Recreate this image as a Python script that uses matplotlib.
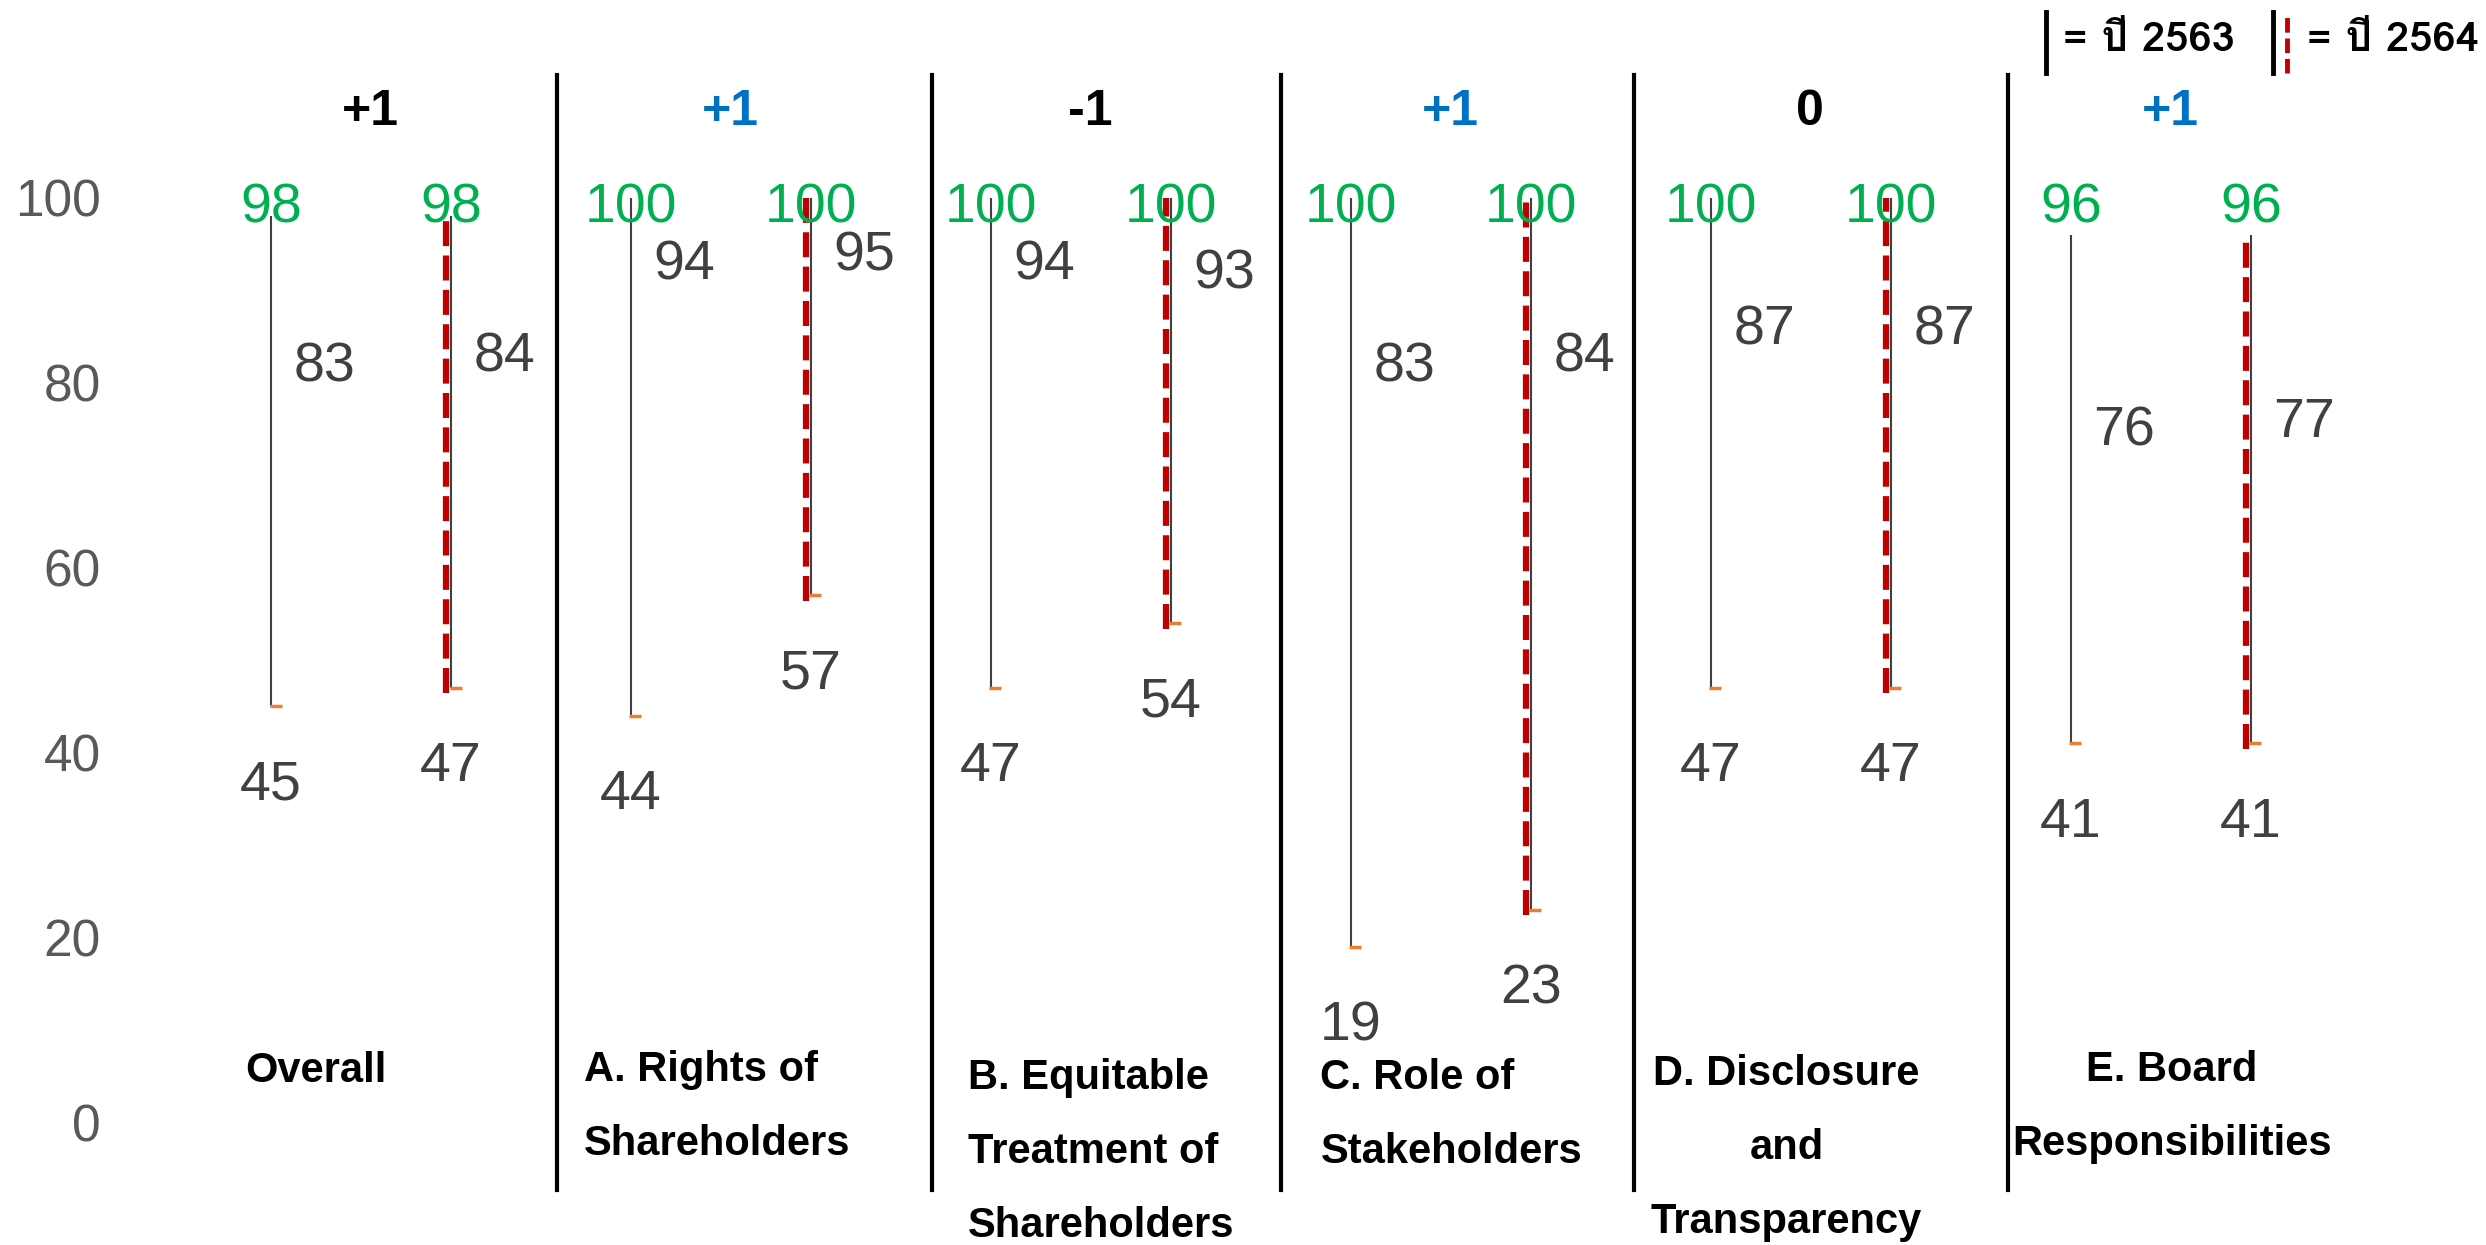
import matplotlib
matplotlib.use("Agg")
import matplotlib.pyplot as plt
from matplotlib import font_manager
from matplotlib.ft2font import FT2Font

# ข้อมูลคะแนน ปี 2563 / 2564
categories = ["Overall", "A. Rights of\nShareholders", "B. Equitable\nTreatment of\nShareholders",
              "C. Role of\nStakeholders", "D. Disclosure\nand\nTransparency", "E. Board\nResponsibilities"]
max_2563 = [98, 100, 100, 100, 100, 96]
mean_2563 = [83, 94, 94, 83, 87, 76]
min_2563 = [45, 44, 47, 19, 47, 41]
max_2564 = [98, 100, 100, 100, 100, 96]
mean_2564 = [84, 95, 93, 84, 87, 77]
min_2564 = [47, 57, 54, 23, 47, 41]
change = ["+1", "+1", "-1", "+1", "0", "+1"]
legend_labels = ["= ปี 2563", "= ปี 2564"]

# layout only
change_color = ["black", "#0070C0", "black", "#0070C0", "black", "#0070C0"]
sep_x = [1.59, 3.67, 5.61, 7.57, 9.65]
cat_x = [0.25, 1.74, 3.87, 5.83, 8.42, 10.56]
cat_y = [4.4, -3.5, -12.4, -4.4, -12.0, -3.5]   # baseline ของบรรทัดสุดท้าย
cat_ha = ["center", "left", "left", "left", "center", "center"]

GREEN = "#00B050"
DARK = "#404040"
RED = "#C00000"
ORANGE = "#ED7D31"


def thai_font():
    # หา font ที่มีอักษรไทย
    for f in font_manager.fontManager.ttflist:
        try:
            if 0x0E1B in FT2Font(f.fname).get_charmap():
                return f.name
        except Exception:
            pass
    return "DejaVu Sans"


plt.rcParams["font.family"] = ["Liberation Sans", "DejaVu Sans"]
th = thai_font()

fig = plt.figure(figsize=(24.86, 12.45), dpi=100)
ax = fig.add_axes([120 / 2486, 0, 1 - 120 / 2486, 1])
ax.set_xlim(-0.839, 12.306)
ax.set_ylim(-13.25, 121.4)
for s in ax.spines.values():
    s.set_visible(False)
ax.set_xticks([])
ax.set_yticks([0, 20, 40, 60, 80, 100])
ax.tick_params(axis="y", length=0, pad=14, labelsize=37, labelcolor="#595959")

for i in range(len(categories)):
    x1 = 2 * i
    x2 = 2 * i + 1

    # ปี 2563
    ax.plot([x1, x1], [min_2563[i], max_2563[i]], color=DARK, lw=1.5, solid_capstyle="butt")
    ax.plot([x1 + 0.025], [min_2563[i]], marker="_", ms=9, mew=2.5, color=ORANGE)
    ax.text(x1, 98.8, str(max_2563[i]), color=GREEN, fontsize=40, ha="center", va="center")
    ax.text(x1 + 0.125, mean_2563[i] - 1.3, str(mean_2563[i]), color=DARK, fontsize=40,
            ha="left", va="center")
    ax.text(x1, min_2563[i] - 8.6, str(min_2563[i]), color=DARK, fontsize=40,
            ha="center", va="center")

    # ปี 2564
    ax.plot([x2, x2], [min_2564[i], max_2564[i]], color=DARK, lw=1.5, solid_capstyle="butt")
    ax.plot([x2 + 0.025], [min_2564[i]], marker="_", ms=9, mew=2.5, color=ORANGE)
    ax.plot([x2 - 0.028, x2 - 0.028], [min_2564[i] - 0.6, max_2564[i]], color=RED, lw=4.5,
            dashes=(4, 1.5))
    ax.text(x2, 98.8, str(max_2564[i]), color=GREEN, fontsize=40, ha="center", va="center")
    ax.text(x2 + 0.125, mean_2564[i] - 1.3, str(mean_2564[i]), color=DARK, fontsize=40,
            ha="left", va="center")
    ax.text(x2, min_2564[i] - 8.6, str(min_2564[i]), color=DARK, fontsize=40,
            ha="center", va="center")

    # ผลต่าง
    ax.text(2 * i + 0.55, 109.3, change[i], color=change_color[i], fontsize=36,
            fontweight="bold", ha="center", va="center")

    # ชื่อหมวด
    ax.text(cat_x[i], cat_y[i], categories[i], fontsize=30, fontweight="bold", ha=cat_ha[i],
            va="baseline", multialignment=cat_ha[i], linespacing=2.1, clip_on=False)

for sx in sep_x:
    ax.plot([sx, sx], [-7.3, 113.3], color="black", lw=3, clip_on=False)

# legend
ax.plot([9.86, 9.86], [113.5, 120.1], color="black", lw=3.5, clip_on=False)
ax.text(9.955, 117, legend_labels[0], fontsize=30, fontweight="bold", ha="left", va="center",
        family=[th, "Liberation Sans", "DejaVu Sans"])
ax.plot([11.12, 11.12], [113.5, 120.1], color="black", lw=3.5, clip_on=False)
ax.plot([11.2, 11.2], [113.5, 120.1], color=RED, lw=3.5, dashes=(3, 1.2), clip_on=False)
ax.text(11.31, 117, legend_labels[1], fontsize=30, fontweight="bold", ha="left", va="center",
        family=[th, "Liberation Sans", "DejaVu Sans"])

fig.savefig("out.png", dpi=100)
